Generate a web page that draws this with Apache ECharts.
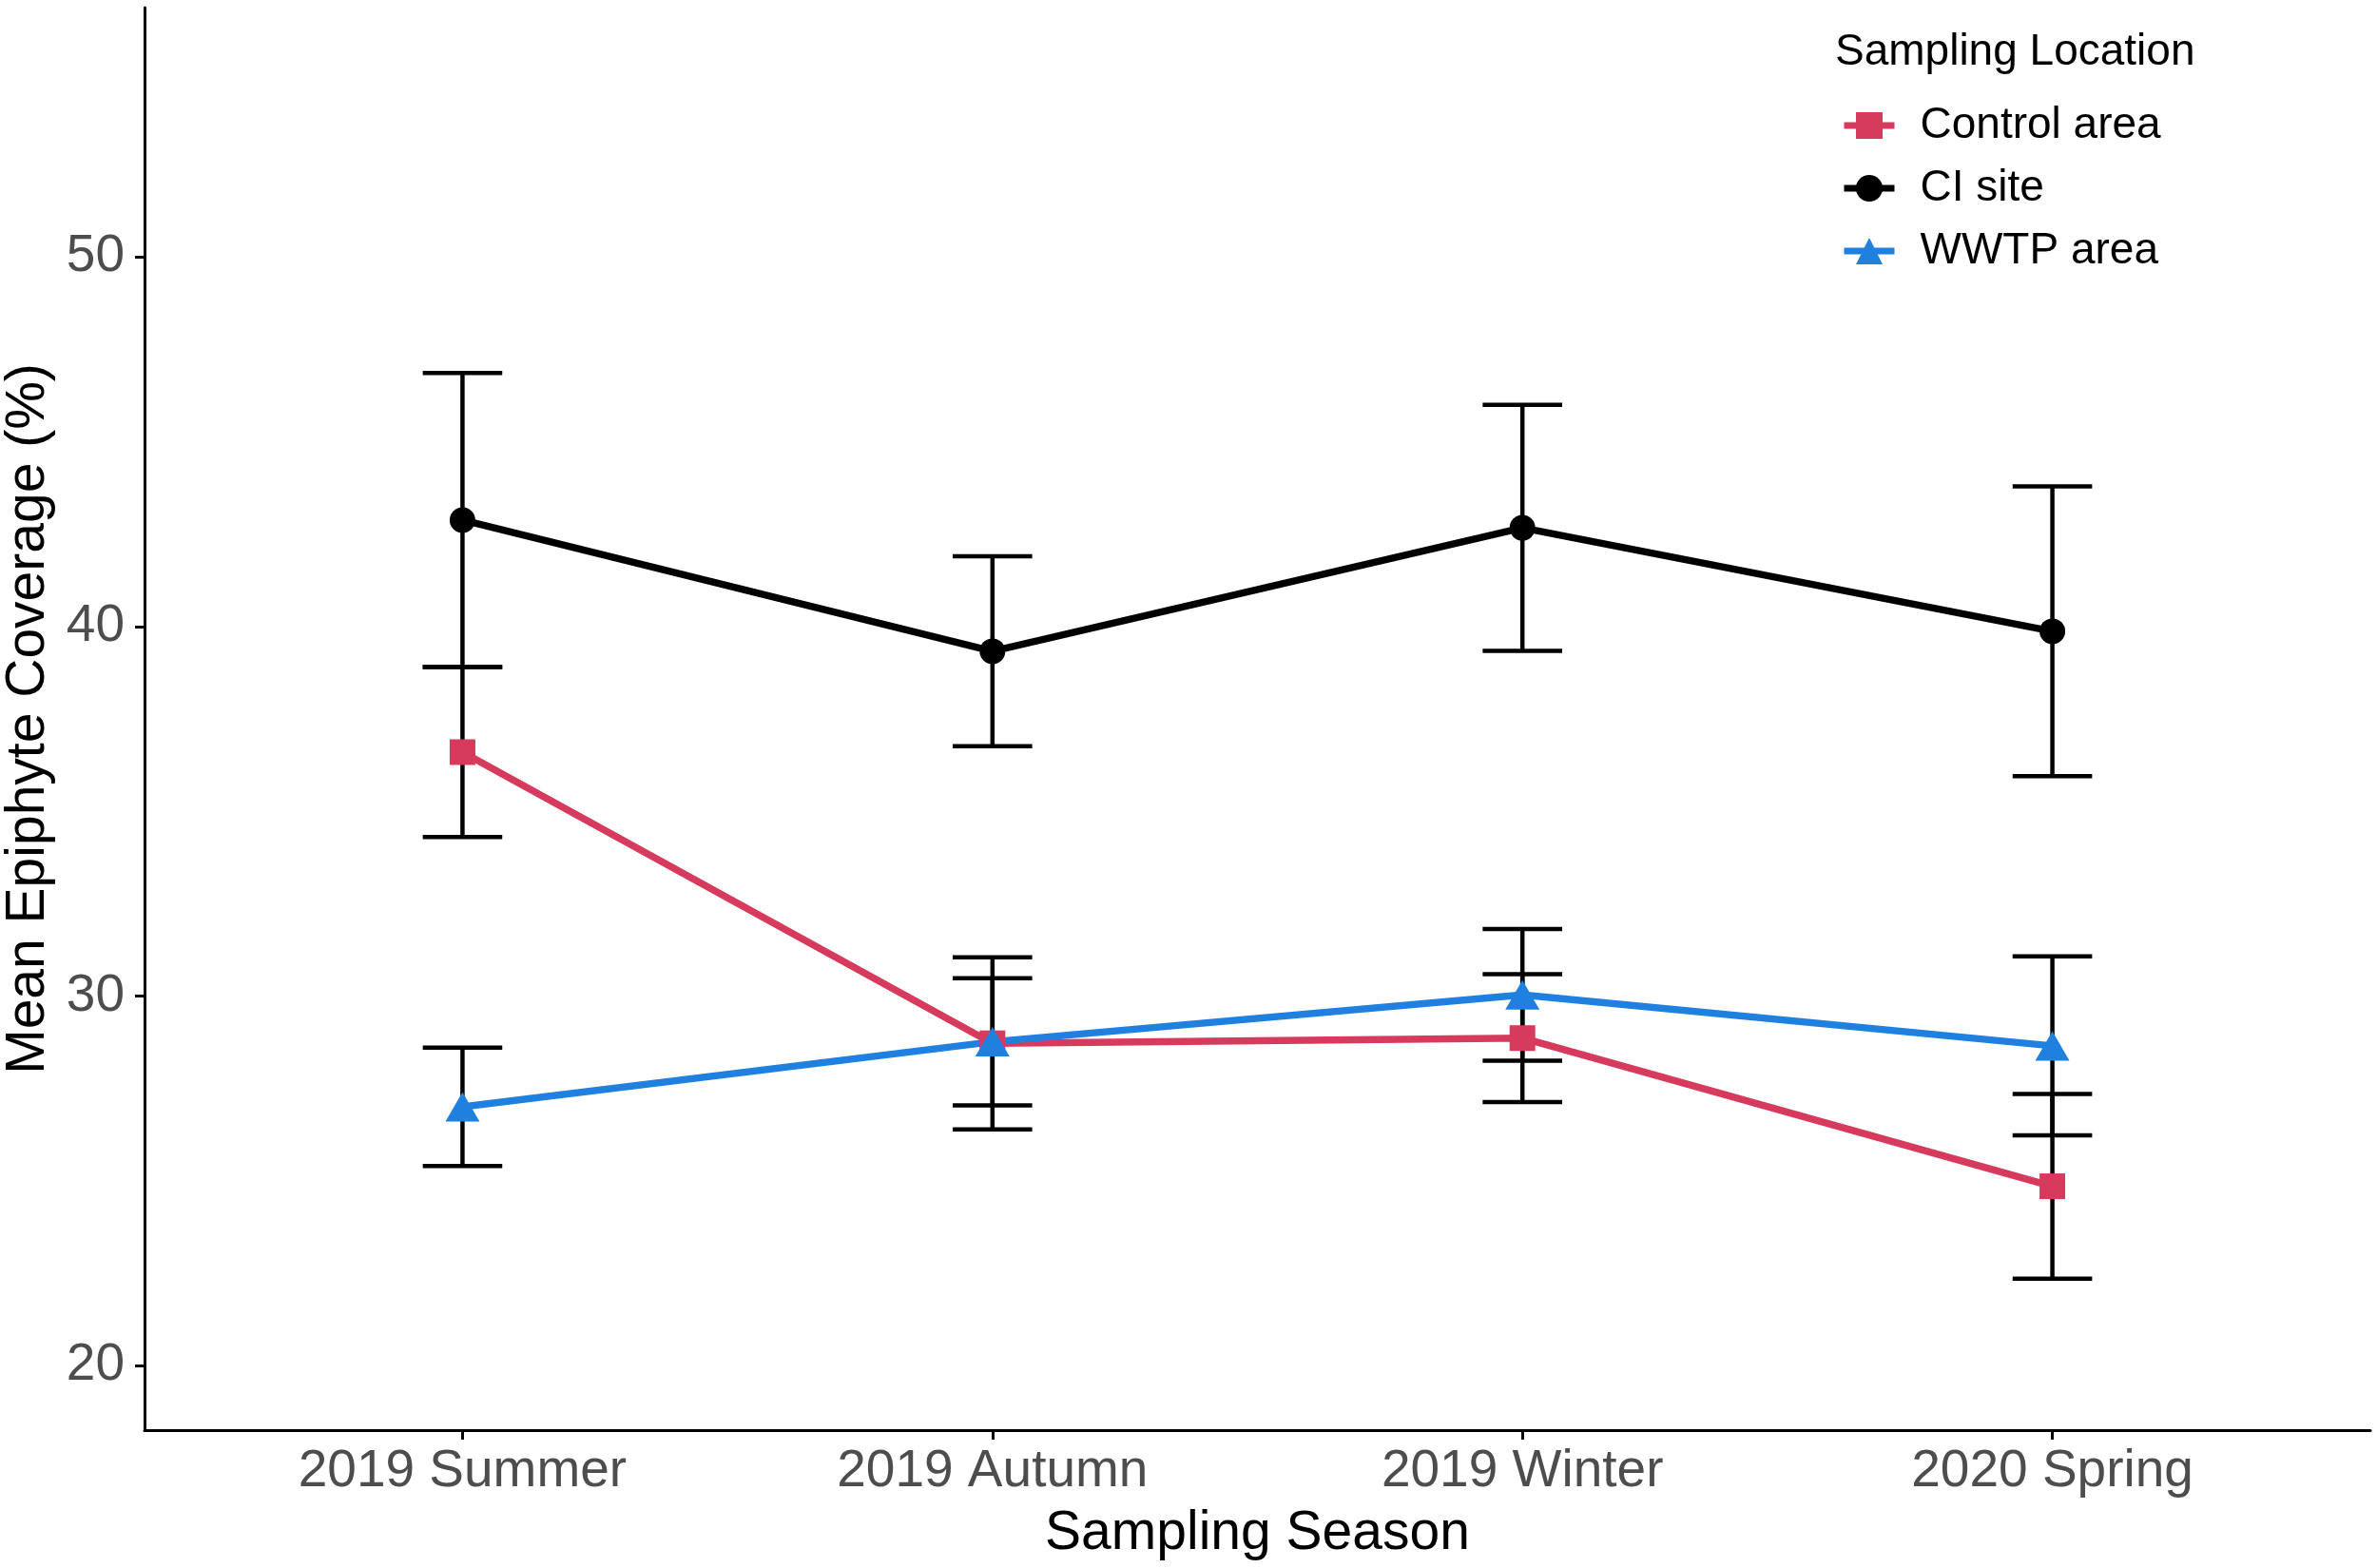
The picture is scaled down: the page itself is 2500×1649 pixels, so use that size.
<!DOCTYPE html>
<html>
<head>
<meta charset="utf-8">
<title>Mean Epiphyte Coverage</title>
<script src="https://cdn.jsdelivr.net/npm/echarts@6/dist/echarts.min.js"></script>
<style>
html,body{margin:0;padding:0;background:#fff;}
#main{width:2500px;height:1649px;}
</style>
</head>
<body>
<div id="main"></div>
<script>
// 数据
var seasons = ['2019 Summer', '2019 Autumn', '2019 Winter', '2020 Spring'];
var yTicks = [20, 30, 40, 50];

var controlMean = [36.6, 28.72, 28.86, 24.85];
var controlSE   = [2.3, 2.33, 1.73, 2.5];
var ciMean      = [42.88, 39.33, 42.67, 39.87];
var ciSE        = [3.98, 2.57, 3.33, 3.92];
var wwtpMean    = [27.0, 28.76, 30.03, 28.65];
var wwtpSE      = [1.6, 1.72, 1.78, 2.42];

var FONT = "'Liberation Sans', Arial, sans-serif";

function points(mean){
	var arr = [];
	for(var i=0;i<mean.length;i++){
		arr.push([i, mean[i]]);
	}
	return arr;
}
function bars(mean, se){
	var arr = [];
	for(var i=0;i<mean.length;i++){
		arr.push([i, mean[i]-se[i], mean[i]+se[i]]);
	}
	return arr;
}

// 误差线
function renderErrorBar(params, api){
	var x = api.value(0);
	var lo = api.coord([x, api.value(1)]);
	var hi = api.coord([x, api.value(2)]);
	var hw = api.size([0.15, 0])[0] / 2;
	var st = {stroke:'#000', lineWidth:4.5};
	return {
		type:'group',
		children:[
			{type:'line', shape:{x1:lo[0], y1:hi[1], x2:lo[0], y2:lo[1]}, style:st},
			{type:'line', shape:{x1:lo[0]-hw, y1:hi[1], x2:lo[0]+hw, y2:hi[1]}, style:st},
			{type:'line', shape:{x1:lo[0]-hw, y1:lo[1], x2:lo[0]+hw, y2:lo[1]}, style:st}
		]
	};
}

var myChart = echarts.init(document.getElementById('main'));

var option = {
	backgroundColor:'#fff',
	animation:false,
	title:{
		text:'Sampling Location',
		left:1930,
		top:32,
		padding:0,
		textStyle:{fontFamily:FONT, fontSize:46, fontWeight:'normal', color:'#000'}
	},
	legend:{
		orient:'vertical',
		left:1936,
		top:109,
		padding:0,
		itemWidth:53,
		itemHeight:35,
		itemGap:20,
		lineStyle:{width:7},
		data:['Control area','CI site','WWTP area'],
		textStyle:{fontFamily:FONT, fontSize:46, color:'#000', padding:[0,0,0,22]}
	},
	grid:{left:152, right:7, top:8, bottom:145, containLabel:false, outerBoundsMode:'none'},
	xAxis:{
		type:'value',
		min:-0.6,
		max:3.6,
		name:'Sampling Season',
		nameLocation:'middle',
		nameGap:81,
		nameTextStyle:{fontFamily:FONT, fontSize:57, color:'#000'},
		splitLine:{show:false},
		axisLine:{show:true, onZero:false, lineStyle:{color:'#000', width:3}},
		axisTick:{show:true, length:10, lineStyle:{color:'#000', width:3}, customValues:[0,1,2,3]},
		axisLabel:{
			fontFamily:FONT, fontSize:55, color:'#4D4D4D', margin:16,
			customValues:[0,1,2,3],
			formatter:function(v){ return seasons[Math.round(v)]; }
		}
	},
	yAxis:{
		type:'value',
		min:18.25,
		max:56.75,
		name:'Mean Epiphyte Coverage (%)',
		nameLocation:'middle',
		nameGap:80,
		nameTextStyle:{fontFamily:FONT, fontSize:57, color:'#000'},
		splitLine:{show:false},
		axisLine:{show:true, onZero:false, lineStyle:{color:'#000', width:3}},
		axisTick:{show:true, length:10, lineStyle:{color:'#000', width:3}, customValues:yTicks},
		axisLabel:{
			fontFamily:FONT, fontSize:55, color:'#4D4D4D', margin:21,
			customValues:yTicks
		}
	},
	series:[
		{
			type:'custom', name:'errControl', z:1,
			renderItem:renderErrorBar,
			data:bars(controlMean, controlSE)
		},
		{
			type:'custom', name:'errCI', z:1,
			renderItem:renderErrorBar,
			data:bars(ciMean, ciSE)
		},
		{
			type:'custom', name:'errWWTP', z:1,
			renderItem:renderErrorBar,
			data:bars(wwtpMean, wwtpSE)
		},
		{
			name:'Control area', type:'line', z:3,
			symbol:'rect', symbolSize:27,
			itemStyle:{color:'#D63A5C'},
			lineStyle:{color:'#D63A5C', width:7.5},
			data:points(controlMean)
		},
		{
			name:'CI site', type:'line', z:3,
			symbol:'circle', symbolSize:27,
			itemStyle:{color:'#000'},
			lineStyle:{color:'#000', width:7.5},
			data:points(ciMean)
		},
		{
			name:'WWTP area', type:'line', z:3,
			symbol:'triangle', symbolSize:[36,31],
			itemStyle:{color:'#1F80E0'},
			lineStyle:{color:'#1F80E0', width:7.5},
			data:points(wwtpMean)
		}
	]
};

myChart.setOption(option);
</script>
</body>
</html>
